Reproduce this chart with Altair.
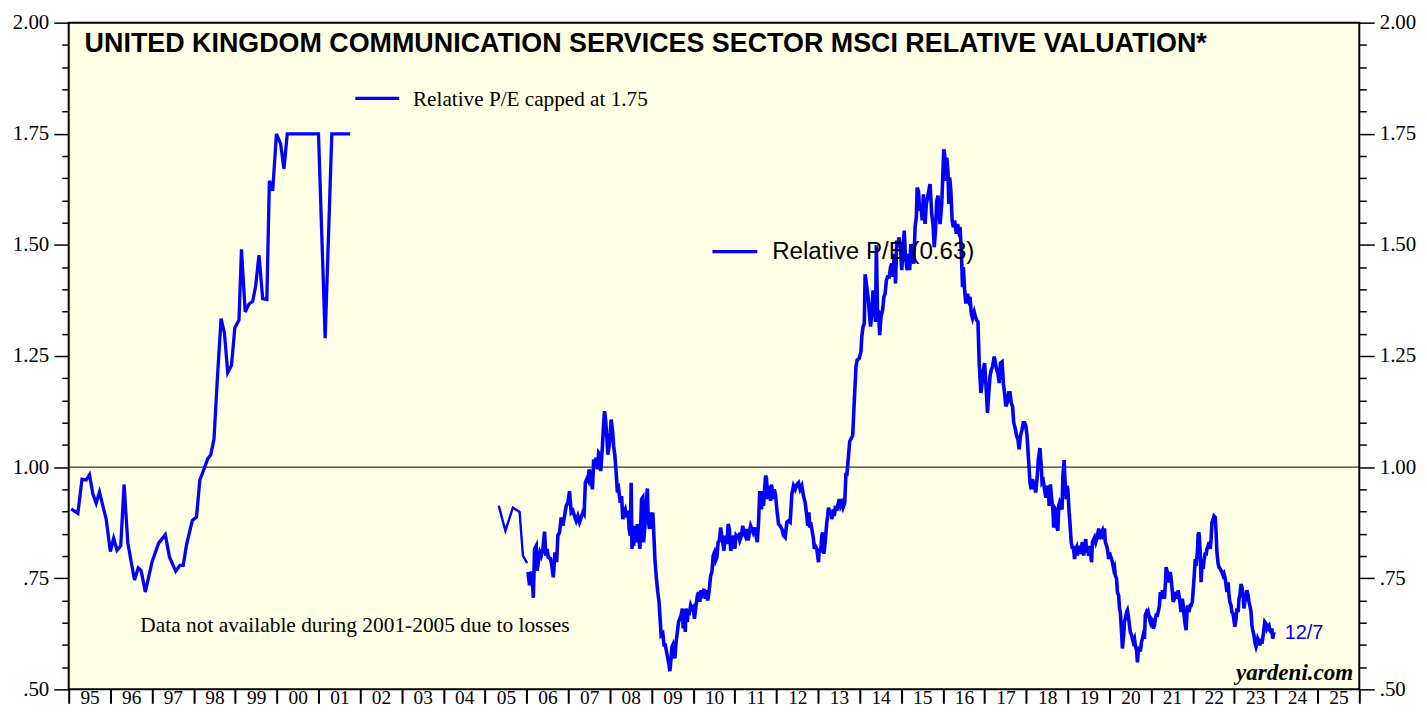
import altair as alt
import pandas as pd

TITLE = "UNITED KINGDOM COMMUNICATION SERVICES SECTOR MSCI RELATIVE VALUATION*"
LEGEND_CAPPED = "Relative P/E capped at 1.75"
LEGEND_WEEKLY = "Relative P/E (0.63)"
NOTE = "Data not available during 2001-2005 due to losses"
SOURCE = "yardeni.com"
LAST_DATE = "12/7"

# Monthly relative P/E capped at 1.75 (two stretches, gap 2001-2005)
capped_a_years = [1995.06, 1995.22, 1995.32, 1995.42, 1995.50, 1995.58, 1995.66, 1995.74, 1995.82, 1995.90,
                  1996.00, 1996.08, 1996.16, 1996.25, 1996.33, 1996.42, 1996.58, 1996.67, 1996.74, 1996.84,
                  1997.00, 1997.16, 1997.32, 1997.42, 1997.57, 1997.67, 1997.75, 1997.83, 1997.97,
                  1998.07, 1998.15, 1998.26, 1998.34, 1998.41, 1998.49, 1998.57, 1998.66, 1998.74, 1998.82, 1998.91, 1998.99,
                  1999.09, 1999.15, 1999.24, 1999.33, 1999.42, 1999.49, 1999.57, 1999.66, 1999.76, 1999.82, 1999.90, 1999.99,
                  2000.09, 2000.17, 2000.25, 2000.37, 2000.53,
                  2001.00, 2001.16, 2001.32, 2001.76]
capped_a_values = [0.906, 0.896, 0.973, 0.971, 0.983, 0.940, 0.919, 0.944, 0.913, 0.883,
                   0.810, 0.840, 0.813, 0.823, 0.961, 0.829, 0.746, 0.773, 0.767, 0.719,
                   0.786, 0.829, 0.848, 0.798, 0.766, 0.779, 0.779, 0.825, 0.880,
                   0.888, 0.971, 0.998, 1.019, 1.027, 1.063, 1.198, 1.334, 1.302, 1.213, 1.229, 1.313,
                   1.331, 1.490, 1.349, 1.367, 1.373, 1.407, 1.477, 1.379, 1.377, 1.644, 1.622, 1.75,
                   1.728, 1.671, 1.75, 1.75, 1.75,
                   1.75, 1.29, 1.75, 1.75]
capped_b_years = [2005.33, 2005.49, 2005.67, 2005.83, 2005.91, 2006.01]
capped_b_values = [0.913, 0.857, 0.909, 0.899, 0.801, 0.784]

# Weekly relative P/E (year, value)
weekly_2006_2013 = [
    (2006.03, 0.764), (2006.07, 0.734), (2006.11, 0.765), (2006.13, 0.756), (2006.16, 0.706), (2006.19, 0.816),
    (2006.23, 0.823), (2006.25, 0.767), (2006.28, 0.786), (2006.32, 0.808), (2006.35, 0.801), (2006.39, 0.816),
    (2006.43, 0.855), (2006.46, 0.801), (2006.49, 0.816), (2006.52, 0.797), (2006.57, 0.794), (2006.60, 0.782),
    (2006.64, 0.752), (2006.68, 0.808), (2006.72, 0.786), (2006.75, 0.846), (2006.79, 0.853), (2006.83, 0.887),
    (2006.87, 0.868), (2006.91, 0.890), (2006.95, 0.913), (2006.99, 0.920), (2007.03, 0.946), (2007.07, 0.898),
    (2007.11, 0.902), (2007.15, 0.890), (2007.19, 0.879), (2007.23, 0.890), (2007.27, 0.876), (2007.31, 0.887),
    (2007.35, 0.898), (2007.38, 0.894), (2007.41, 0.965), (2007.45, 0.974), (2007.48, 0.969), (2007.50, 0.995),
    (2007.54, 0.980), (2007.58, 0.950), (2007.61, 1.017), (2007.64, 1.010), (2007.67, 1.021), (2007.70, 0.995),
    (2007.73, 1.032), (2007.76, 1.028), (2007.78, 0.991), (2007.82, 1.047), (2007.85, 1.099), (2007.87, 1.126),
    (2007.90, 1.103), (2007.93, 1.062), (2007.95, 1.028), (2007.98, 1.047), (2008.01, 1.077), (2008.03, 1.107),
    (2008.06, 1.084), (2008.09, 1.047), (2008.12, 1.025), (2008.15, 0.987), (2008.18, 0.943), (2008.21, 0.950),
    (2008.25, 0.920), (2008.28, 0.935), (2008.31, 0.883), (2008.34, 0.898), (2008.37, 0.905), (2008.41, 0.887),
    (2008.44, 0.902), (2008.46, 0.861), (2008.49, 0.846), (2008.51, 0.965), (2008.53, 0.816), (2008.55, 0.853),
    (2008.57, 0.823), (2008.60, 0.868), (2008.63, 0.831), (2008.66, 0.872), (2008.69, 0.846), (2008.72, 0.816),
    (2008.76, 0.928), (2008.79, 0.932), (2008.81, 0.831), (2008.84, 0.868), (2008.87, 0.913), (2008.90, 0.952),
    (2008.92, 0.883), (2008.95, 0.861), (2008.97, 0.898), (2009.00, 0.861), (2009.03, 0.898), (2009.06, 0.838),
    (2009.08, 0.794), (2009.11, 0.756), (2009.15, 0.719), (2009.18, 0.697), (2009.21, 0.652), (2009.23, 0.622),
    (2009.27, 0.626), (2009.30, 0.600), (2009.33, 0.600), (2009.36, 0.585), (2009.39, 0.570), (2009.42, 0.555),
    (2009.44, 0.541), (2009.47, 0.570), (2009.49, 0.596), (2009.51, 0.600), (2009.54, 0.577), (2009.56, 0.570),
    (2009.59, 0.607), (2009.62, 0.629), (2009.65, 0.652), (2009.68, 0.659), (2009.71, 0.667), (2009.74, 0.682),
    (2009.76, 0.637), (2009.79, 0.674), (2009.81, 0.629), (2009.83, 0.682), (2009.86, 0.652), (2009.88, 0.674),
    (2009.90, 0.667), (2009.94, 0.689), (2009.97, 0.682), (2010.00, 0.685), (2010.03, 0.659), (2010.06, 0.682),
    (2010.10, 0.711), (2010.13, 0.719), (2010.16, 0.697), (2010.19, 0.723), (2010.22, 0.715), (2010.26, 0.726),
    (2010.29, 0.704), (2010.32, 0.723), (2010.35, 0.700), (2010.38, 0.719), (2010.42, 0.756), (2010.45, 0.764),
    (2010.48, 0.801), (2010.51, 0.808), (2010.54, 0.790), (2010.57, 0.797), (2010.60, 0.831), (2010.63, 0.835),
    (2010.66, 0.864), (2010.69, 0.842), (2010.71, 0.831), (2010.74, 0.812), (2010.77, 0.846), (2010.81, 0.827),
    (2010.84, 0.872), (2010.87, 0.861), (2010.90, 0.812), (2010.93, 0.823), (2010.97, 0.846), (2011.00, 0.816),
    (2011.03, 0.846), (2011.06, 0.842), (2011.09, 0.846), (2011.12, 0.835), (2011.16, 0.846), (2011.19, 0.868),
    (2011.22, 0.853), (2011.25, 0.846), (2011.28, 0.861), (2011.32, 0.835), (2011.35, 0.853), (2011.38, 0.868),
    (2011.41, 0.861), (2011.44, 0.853), (2011.48, 0.864), (2011.51, 0.846), (2011.54, 0.831), (2011.57, 0.876),
    (2011.60, 0.946), (2011.62, 0.920), (2011.64, 0.905), (2011.67, 0.946), (2011.69, 0.913), (2011.71, 0.943),
    (2011.74, 0.981), (2011.76, 0.976), (2011.79, 0.928), (2011.81, 0.958), (2011.83, 0.950), (2011.86, 0.924),
    (2011.88, 0.961), (2011.91, 0.943), (2011.93, 0.928), (2011.95, 0.950), (2011.98, 0.935), (2012.01, 0.905),
    (2012.05, 0.872), (2012.09, 0.868), (2012.13, 0.861), (2012.17, 0.846), (2012.21, 0.842), (2012.25, 0.876),
    (2012.29, 0.879), (2012.33, 0.876), (2012.37, 0.939), (2012.41, 0.958), (2012.45, 0.950), (2012.49, 0.961),
    (2012.53, 0.965), (2012.57, 0.950), (2012.61, 0.958), (2012.65, 0.935), (2012.69, 0.920), (2012.73, 0.890),
    (2012.75, 0.868), (2012.78, 0.898), (2012.80, 0.864), (2012.82, 0.876), (2012.85, 0.861), (2012.89, 0.838),
    (2012.91, 0.816), (2012.93, 0.823), (2012.97, 0.816), (2013.01, 0.786), (2013.03, 0.816), (2013.06, 0.808),
    (2013.09, 0.846), (2013.11, 0.853), (2013.14, 0.805), (2013.17, 0.831), (2013.21, 0.876), (2013.23, 0.890),
    (2013.25, 0.909), (2013.29, 0.894), (2013.31, 0.902), (2013.33, 0.883), (2013.37, 0.905), (2013.39, 0.890),
    (2013.42, 0.913), (2013.45, 0.902), (2013.48, 0.917), (2013.51, 0.928), (2013.54, 0.913), (2013.57, 0.920),
    (2013.60, 0.909), (2013.64, 0.920), (2013.67, 0.987), (2013.69, 0.980), (2013.71, 1.002), (2013.73, 1.025),
    (2013.76, 1.058), (2013.80, 1.066), (2013.83, 1.070), (2013.86, 1.129),
]
weekly_2014_2018 = [
    (2013.91, 1.226), (2013.94, 1.241), (2013.99, 1.245), (2014.03, 1.260), (2014.05, 1.293), (2014.08, 1.316),
    (2014.11, 1.323), (2014.13, 1.434), (2014.16, 1.413), (2014.20, 1.383), (2014.23, 1.349), (2014.26, 1.316),
    (2014.29, 1.346), (2014.32, 1.398), (2014.35, 1.368), (2014.38, 1.327), (2014.40, 1.499), (2014.43, 1.338),
    (2014.45, 1.353), (2014.48, 1.297), (2014.51, 1.338), (2014.55, 1.353), (2014.58, 1.383), (2014.61, 1.390),
    (2014.64, 1.420), (2014.67, 1.428), (2014.71, 1.428), (2014.74, 1.450), (2014.77, 1.458), (2014.80, 1.428),
    (2014.83, 1.480), (2014.86, 1.413), (2014.89, 1.510), (2014.92, 1.495), (2014.94, 1.517), (2014.98, 1.495),
    (2015.01, 1.443), (2015.04, 1.495), (2015.07, 1.532), (2015.10, 1.473), (2015.14, 1.443), (2015.17, 1.480),
    (2015.20, 1.443), (2015.23, 1.502), (2015.26, 1.473), (2015.30, 1.458), (2015.33, 1.540), (2015.36, 1.562),
    (2015.38, 1.629), (2015.41, 1.622), (2015.44, 1.577), (2015.47, 1.592), (2015.50, 1.555), (2015.53, 1.614),
    (2015.57, 1.547), (2015.60, 1.592), (2015.63, 1.607), (2015.66, 1.622), (2015.69, 1.637), (2015.73, 1.569),
    (2015.76, 1.547), (2015.79, 1.495), (2015.82, 1.532), (2015.85, 1.599), (2015.88, 1.611), (2015.90, 1.577),
    (2015.93, 1.547), (2015.97, 1.592), (2016.00, 1.666), (2016.02, 1.715), (2016.04, 1.704), (2016.07, 1.644),
    (2016.09, 1.696), (2016.12, 1.666), (2016.14, 1.592), (2016.16, 1.652), (2016.19, 1.622), (2016.22, 1.555),
    (2016.25, 1.540), (2016.28, 1.555), (2016.32, 1.525), (2016.35, 1.547), (2016.38, 1.532), (2016.41, 1.540),
    (2016.44, 1.487), (2016.47, 1.405), (2016.49, 1.450), (2016.52, 1.398), (2016.55, 1.368), (2016.59, 1.390),
    (2016.62, 1.376), (2016.65, 1.383), (2016.68, 1.346), (2016.71, 1.335), (2016.75, 1.349), (2016.78, 1.338),
    (2016.81, 1.331), (2016.84, 1.327), (2016.87, 1.234), (2016.91, 1.167), (2016.94, 1.189), (2016.97, 1.219),
    (2017.00, 1.234), (2017.03, 1.189), (2017.07, 1.122), (2017.10, 1.167), (2017.13, 1.204), (2017.16, 1.219),
    (2017.19, 1.226), (2017.23, 1.249), (2017.26, 1.234), (2017.29, 1.219), (2017.32, 1.211), (2017.35, 1.189),
    (2017.38, 1.234), (2017.42, 1.237), (2017.45, 1.189), (2017.48, 1.167), (2017.51, 1.137), (2017.54, 1.144),
    (2017.58, 1.167), (2017.61, 1.167), (2017.64, 1.144), (2017.67, 1.137), (2017.70, 1.100), (2017.74, 1.085),
    (2017.77, 1.070), (2017.80, 1.062), (2017.83, 1.040), (2017.86, 1.070), (2017.90, 1.085), (2017.93, 1.100),
    (2017.96, 1.100), (2017.99, 1.092), (2018.02, 1.070), (2018.05, 1.025), (2018.09, 0.965), (2018.12, 0.950),
    (2018.15, 0.973),
]
weekly_2018_2023 = [
    (2018.23, 0.943), (2018.27, 0.987), (2018.29, 1.017), (2018.33, 1.043), (2018.36, 1.002), (2018.38, 0.965),
    (2018.41, 0.969), (2018.45, 0.943), (2018.47, 0.931), (2018.50, 0.958), (2018.53, 0.950), (2018.55, 0.913),
    (2018.58, 0.961), (2018.61, 0.931), (2018.64, 0.905), (2018.66, 0.864), (2018.68, 0.909), (2018.71, 0.905),
    (2018.73, 0.868), (2018.76, 0.857), (2018.78, 0.913), (2018.80, 0.920), (2018.84, 0.909), (2018.86, 0.905),
    (2018.88, 0.980), (2018.91, 1.016), (2018.93, 0.972), (2018.96, 0.928), (2018.98, 0.958), (2019.00, 0.950),
    (2019.03, 0.898), (2019.05, 0.875), (2019.08, 0.831), (2019.11, 0.816), (2019.13, 0.823), (2019.16, 0.793),
    (2019.19, 0.816), (2019.21, 0.820), (2019.23, 0.801), (2019.26, 0.823), (2019.28, 0.816), (2019.31, 0.805),
    (2019.33, 0.823), (2019.35, 0.831), (2019.38, 0.801), (2019.40, 0.823), (2019.43, 0.838), (2019.45, 0.808),
    (2019.47, 0.816), (2019.50, 0.801), (2019.52, 0.823), (2019.55, 0.801), (2019.57, 0.786), (2019.59, 0.831),
    (2019.62, 0.838), (2019.64, 0.842), (2019.67, 0.831), (2019.69, 0.838), (2019.71, 0.846), (2019.74, 0.862),
    (2019.76, 0.838), (2019.79, 0.846), (2019.81, 0.853), (2019.83, 0.857), (2019.86, 0.838), (2019.88, 0.862),
    (2019.90, 0.831), (2019.93, 0.823), (2019.95, 0.816), (2019.98, 0.793), (2020.00, 0.808), (2020.02, 0.801),
    (2020.05, 0.793), (2020.07, 0.786), (2020.10, 0.771), (2020.12, 0.775), (2020.14, 0.756), (2020.17, 0.749),
    (2020.19, 0.719), (2020.22, 0.711), (2020.24, 0.682), (2020.26, 0.674), (2020.29, 0.629), (2020.31, 0.592),
    (2020.34, 0.622), (2020.36, 0.652), (2020.38, 0.659), (2020.41, 0.674), (2020.43, 0.678), (2020.45, 0.667),
    (2020.48, 0.644), (2020.50, 0.629), (2020.53, 0.622), (2020.55, 0.614), (2020.57, 0.607), (2020.60, 0.614),
    (2020.62, 0.599), (2020.65, 0.588), (2020.67, 0.561), (2020.69, 0.585), (2020.72, 0.596), (2020.74, 0.585),
    (2020.77, 0.607), (2020.79, 0.614), (2020.81, 0.622), (2020.84, 0.614), (2020.86, 0.667), (2020.89, 0.674),
    (2020.91, 0.670), (2020.93, 0.674), (2020.96, 0.659), (2020.98, 0.652), (2021.00, 0.659), (2021.03, 0.655),
    (2021.05, 0.637), (2021.08, 0.644), (2021.10, 0.659), (2021.12, 0.667), (2021.15, 0.667), (2021.17, 0.674),
    (2021.20, 0.689), (2021.22, 0.719), (2021.24, 0.704), (2021.27, 0.723), (2021.29, 0.711), (2021.32, 0.704),
    (2021.34, 0.734), (2021.36, 0.775), (2021.39, 0.764), (2021.41, 0.741), (2021.44, 0.749), (2021.46, 0.764),
    (2021.48, 0.749), (2021.51, 0.719), (2021.53, 0.697), (2021.56, 0.704), (2021.58, 0.711), (2021.60, 0.719),
    (2021.63, 0.704), (2021.65, 0.723), (2021.67, 0.711), (2021.70, 0.689), (2021.72, 0.674), (2021.75, 0.704),
    (2021.77, 0.689), (2021.79, 0.667), (2021.82, 0.644), (2021.84, 0.633), (2021.87, 0.689), (2021.89, 0.682),
    (2021.91, 0.674), (2021.94, 0.689), (2021.96, 0.689), (2021.99, 0.697), (2022.01, 0.723), (2022.03, 0.749),
    (2022.06, 0.793), (2022.08, 0.778), (2022.11, 0.808), (2022.13, 0.849), (2022.15, 0.853), (2022.18, 0.808),
    (2022.20, 0.741), (2022.22, 0.778), (2022.25, 0.771), (2022.27, 0.790), (2022.30, 0.808), (2022.32, 0.801),
    (2022.34, 0.816), (2022.37, 0.823), (2022.39, 0.831), (2022.42, 0.816), (2022.44, 0.838), (2022.46, 0.875),
    (2022.49, 0.883), (2022.51, 0.890), (2022.54, 0.887), (2022.56, 0.853), (2022.58, 0.808), (2022.61, 0.782),
    (2022.63, 0.775), (2022.66, 0.771), (2022.68, 0.767), (2022.70, 0.764), (2022.73, 0.756), (2022.75, 0.760),
    (2022.78, 0.749), (2022.80, 0.734), (2022.82, 0.719), (2022.85, 0.741), (2022.87, 0.711), (2022.89, 0.697),
    (2022.92, 0.689), (2022.94, 0.674), (2022.97, 0.670), (2022.99, 0.655), (2023.01, 0.641), (2023.04, 0.659),
    (2023.06, 0.682), (2023.09, 0.674), (2023.11, 0.704), (2023.13, 0.711), (2023.16, 0.737), (2023.18, 0.730),
    (2023.21, 0.711), (2023.23, 0.682), (2023.25, 0.697), (2023.28, 0.711), (2023.30, 0.723), (2023.33, 0.711),
    (2023.35, 0.697), (2023.37, 0.689), (2023.40, 0.674), (2023.42, 0.644), (2023.45, 0.629), (2023.47, 0.622),
    (2023.49, 0.607), (2023.52, 0.596), (2023.54, 0.603), (2023.56, 0.614), (2023.59, 0.607), (2023.61, 0.599),
    (2023.64, 0.614), (2023.66, 0.603), (2023.68, 0.614), (2023.71, 0.637), (2023.73, 0.652), (2023.76, 0.648),
    (2023.78, 0.637), (2023.80, 0.641), (2023.83, 0.644), (2023.85, 0.633), (2023.88, 0.629), (2023.90, 0.637),
    (2023.92, 0.614), (2023.95, 0.629),
]

year_ticks = list(range(1995, 2027))
y_ticks = [round(0.5 + 0.05 * i, 2) for i in range(31)]
reference_level = [1.0]

# ---------------------------------------------------------------------------
W, H = 1297, 670
BLUE = "#0000FF"
SERIF = "Liberation Serif"
SANS = "Liberation Sans"

df_a = pd.DataFrame({"year": capped_a_years, "value": capped_a_values})
df_b = pd.DataFrame({"year": capped_b_years, "value": capped_b_values})
weekly = weekly_2006_2013 + weekly_2014_2018 + weekly_2018_2023
df_w = pd.DataFrame({"year": [p[0] for p in weekly], "value": [p[1] for p in weekly]})

xscale = alt.Scale(domain=[1995, 2026], nice=False, zero=False)
yscale = alt.Scale(domain=[0.5, 2.0], nice=False, zero=False)

x_axis = alt.Axis(
    values=year_ticks,
    labelExpr="datum.value > 2025 ? '' : substring(toString(datum.value), 2, 4)",
    tickSize=14, tickWidth=2, tickColor="black",
    labelOffset=21, labelFlush=False, labelOverlap=False,
    domain=False, grid=False, title=None,
    labelFont=SERIF, labelFontSize=19.5, labelColor="black", labelPadding=-15,
    labelBaseline="top",
)

MAJOR = "abs(datum.value*4 - round(datum.value*4)) < 0.01"


def y_axis(orient, pad):
    return alt.Axis(
        orient=orient,
        values=y_ticks,
        labelExpr=f"{MAJOR} ? (datum.value < 1 ? substring(format(datum.value, '.2f'), 1) : format(datum.value, '.2f')) : ''",
        tickSize={"condition": {"test": MAJOR, "value": 15}, "value": 7},
        tickWidth=1.5, tickColor="black",
        domain=False, grid=False, title=None,
        labelFont=SERIF, labelFontSize=21, labelColor="black",
        labelPadding=pad, labelOverlap=False,
    )


ref_line = alt.Chart(pd.DataFrame({"level": reference_level})).mark_rule(
    color="black", strokeWidth=1
).encode(y=alt.Y("level:Q", scale=yscale, axis=None))

line_a = alt.Chart(df_a).mark_line(color=BLUE, strokeWidth=3.3).encode(
    x=alt.X("year:Q", scale=xscale, axis=x_axis),
    y=alt.Y("value:Q", scale=yscale, axis=y_axis("left", 5)),
)
line_b = alt.Chart(df_b).mark_line(color=BLUE, strokeWidth=2.4).encode(
    x=alt.X("year:Q", scale=xscale, axis=x_axis),
    y=alt.Y("value:Q", scale=yscale, axis=None),
)
line_w = alt.Chart(df_w).mark_line(color=BLUE, strokeWidth=3.6).encode(
    x=alt.X("year:Q", scale=xscale, axis=x_axis),
    y=alt.Y("value:Q", scale=yscale, axis=y_axis("right", 5)),
)

one = pd.DataFrame({"k": [0]})


def label(text, x, y, **kw):
    return alt.Chart(pd.DataFrame({"t": [text]})).mark_text(**kw).encode(
        text="t:N", x=alt.value(x), y=alt.value(y)
    )


title = label(TITLE, 16, 29, font=SANS, fontSize=27, fontWeight="bold",
              align="left", baseline="alphabetic", color="black")
leg1_line = alt.Chart(one).mark_rule(color=BLUE, strokeWidth=3.3).encode(
    x=alt.value(288), x2=alt.value(332), y=alt.value(76))
leg1_text = label(LEGEND_CAPPED, 346, 84, font=SERIF, fontSize=21.3,
                  align="left", baseline="alphabetic", color="black")
leg2_line = alt.Chart(one).mark_rule(color=BLUE, strokeWidth=3.3).encode(
    x=alt.value(647), x2=alt.value(692), y=alt.value(230))
leg2_text = label(LEGEND_WEEKLY, 707, 237, font=SANS, fontSize=24.2,
                  align="left", baseline="alphabetic", color="black")
note = label(NOTE, 72, 612, font=SERIF, fontSize=21.5,
             align="left", baseline="alphabetic", color="black")
source = label(SOURCE, 1291, 661, font=SERIF, fontSize=23.2, fontWeight="bold",
               fontStyle="italic", align="right", baseline="alphabetic", color="black")
last = label(LAST_DATE, 1222, 619, font=SANS, fontSize=20,
             align="left", baseline="alphabetic", color=BLUE)

chart = (
    alt.layer(ref_line, line_a, line_b, line_w,
              title, leg1_line, leg1_text, leg2_line, leg2_text, note, source, last)
    .resolve_scale(y="independent")
    .properties(
        width=W, height=H,
        autosize=alt.AutoSizeParams(type="none"),
        padding={"left": 61, "top": 13, "right": 60, "bottom": 20},
        background="white",
    )
    .configure_view(stroke="black", strokeWidth=2, fill="#FFFFE5")
)

chart.save("out.html", embed_options={"renderer": "svg", "actions": False})
